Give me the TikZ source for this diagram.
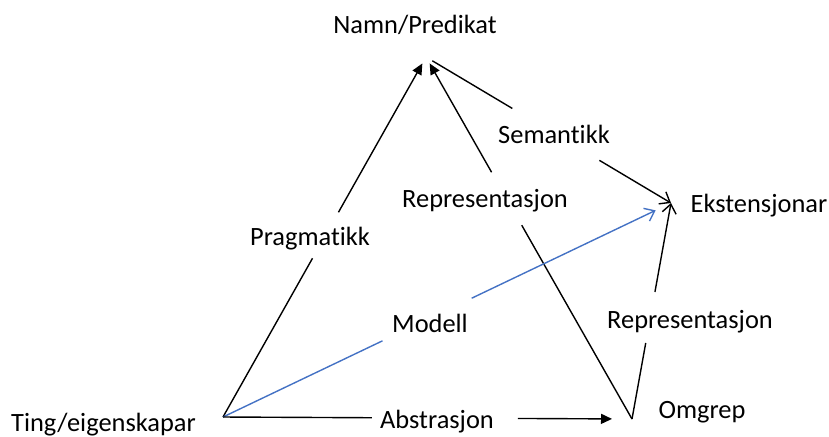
\documentclass[tikz,border=0pt]{standalone}
\usepackage{fontspec}
\setmainfont{Carlito}[Ligatures=NoCommon]
\usetikzlibrary{arrows.meta}
\definecolor{modelblue}{HTML}{4472C4}
\tikzstyle{term} = [anchor=base, inner sep=0pt, text centered]
\tikzstyle{hub} = [circle, inner sep=0pt, minimum size=7pt]
\tikzstyle{link} = [line width=0.7pt]
\tikzstyle{fillarrow} = [-{Triangle[length=5.5pt,width=5pt]}]
\tikzstyle{openarrow} = [-{Straight Barb[length=4.5pt,width=7pt]}]

\begin{document}
\begin{tikzpicture}[x=0.5pt, y=-0.5pt, font=\fontsize{13.2}{16}\selectfont]
    \useasboundingbox (0,0) rectangle (829,436);
    % terms
    \draw (415,33)   node[term] (namn) {Namn/Predikat};
    \draw (759,212)  node[term] (ekst) {Ekstensjonar};
    \draw (702,418)  node[term] (omgrep) {Omgrep};
    \draw (103.5,431) node[term] (ting) {Ting/eigenskapar};
    % relations
    \draw (554,143)  node[term] (sem) {Semantikk};
    \draw (485,207)  node[term] (repA) {Representasjon};
    \draw (310,245)  node[term] (prag) {Pragmatikk};
    \draw (430,332)  node[term] (modell) {Modell};
    \draw (690,328)  node[term] (repB) {Representasjon};
    \draw (437,428)  node[term] (abs) {Abstrasjon};
    % meeting points
    \coordinate (T) at (223,417);
    \draw (426,57) node[hub] (N) {};
    \coordinate (E) at (671,203);
    \coordinate (O) at (632,419);
    % gaps round the labels
    \path (T) -- (N) coordinate[pos=0.449] (prag1) coordinate[pos=0.579] (prag2);
    \path (O) -- (N) coordinate[pos=0.545] (repA1) coordinate[pos=0.694] (repA2);
    \path (N) -- (E) coordinate[pos=0.335] (sem1) coordinate[pos=0.70] (sem2);
    \path (T) -- (E) coordinate[pos=0.356] (mod1) coordinate[pos=0.555] (mod2);
    \path (O) -- (E) coordinate[pos=0.352] (repB1) coordinate[pos=0.588] (repB2);
    \path (T) -- (O) coordinate[pos=0.364] (abs1) coordinate[pos=0.721] (abs2);
    % connectors
    \draw[link] (T) -- (prag1);
    \draw[link, fillarrow] (prag2) -- (N);
    \draw[link] (O) -- (repA1);
    \draw[link, fillarrow] (repA2) -- (N);
    \draw[link] (N) -- (sem1);
    \draw[link, openarrow] (sem2) -- (E);
    \draw[link, modelblue] (T) -- (mod1);
    \draw[link, modelblue, openarrow, shorten >=8.5pt] (mod2) -- (E);
    \draw[link] (O) -- (repB1);
    \draw[link, openarrow] (repB2) -- (E);
    \draw[link] (T) -- (abs1);
    \draw[link, fillarrow, shorten >=10pt] (abs2) -- (O);
\end{tikzpicture}
\end{document}
